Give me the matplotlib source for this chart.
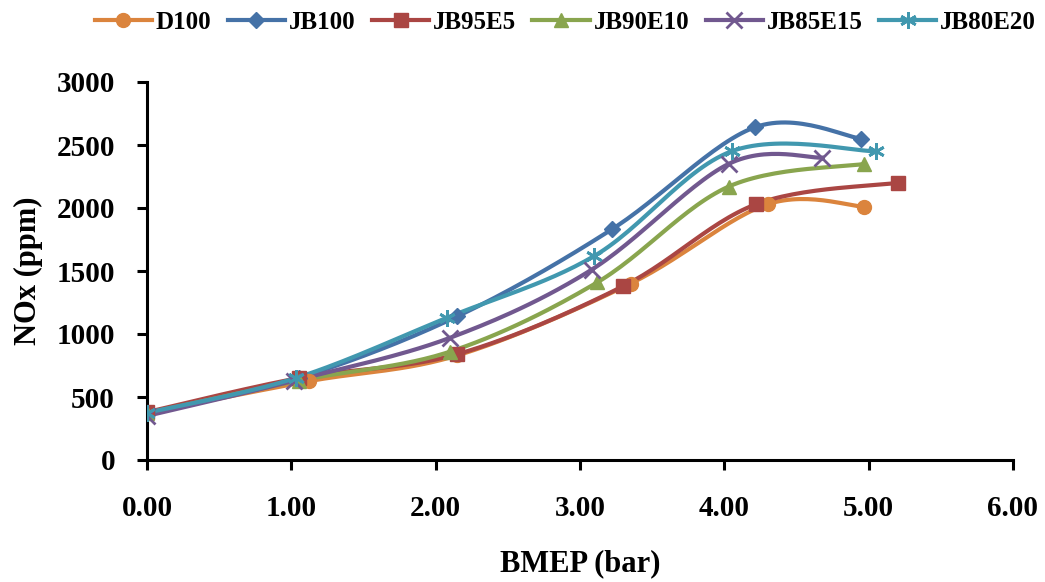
import matplotlib
matplotlib.use('Agg')
import matplotlib.pyplot as plt
import numpy as np

plt.rcParams['font.family'] = ['Liberation Serif', 'DejaVu Serif']
plt.rcParams['font.weight'] = 'bold'

# data
d100_x = [0.0, 1.12, 2.15, 3.35, 4.30, 4.97]
d100_y = [375, 625, 830, 1400, 2030, 2010]
jb100_x = [0.0, 1.05, 2.15, 3.22, 4.21, 4.95]
jb100_y = [370, 650, 1140, 1830, 2640, 2550]
jb95_x = [0.0, 1.05, 2.15, 3.30, 4.22, 5.20]
jb95_y = [380, 650, 840, 1380, 2030, 2200]
jb90_x = [0.0, 1.05, 2.10, 3.12, 4.03, 4.97]
jb90_y = [370, 630, 860, 1410, 2170, 2350]
jb85_x = [0.0, 1.02, 2.10, 3.08, 4.03, 4.68]
jb85_y = [350, 630, 970, 1510, 2350, 2400]
jb80_x = [0.0, 1.03, 2.08, 3.10, 4.05, 5.05]
jb80_y = [375, 650, 1130, 1620, 2450, 2450]

names = ['D100', 'JB100', 'JB95E5', 'JB90E10', 'JB85E15', 'JB80E20']
colors = ['#DB843D', '#4572A7', '#AA4643', '#89A54E', '#71588F', '#4198AF']
markers = ['o', 'D', 's', '^', 'x', (6, 2, 0)]
msizes = [10, 8, 10, 10, 11, 12]
mews = [1, 1, 1, 1, 2, 2]


def smooth(x, y, n=30):
    # catmull-rom style bezier, similar to excel "smoothed line"
    x = np.asarray(x, float)
    y = np.asarray(y, float)
    px = np.concatenate([[x[0]], x, [x[-1]]])
    py = np.concatenate([[y[0]], y, [y[-1]]])
    xs, ys = [], []
    t = np.linspace(0, 1, n)
    for i in range(1, len(px) - 2):
        p0 = np.array([px[i], py[i]])
        p3 = np.array([px[i + 1], py[i + 1]])
        c1 = p0 + (np.array([px[i + 1], py[i + 1]]) - np.array([px[i - 1], py[i - 1]])) / 6
        c2 = p3 - (np.array([px[i + 2], py[i + 2]]) - np.array([px[i], py[i]])) / 6
        b = ((1 - t) ** 3)[:, None] * p0 + (3 * (1 - t) ** 2 * t)[:, None] * c1 \
            + (3 * (1 - t) * t ** 2)[:, None] * c2 + (t ** 3)[:, None] * p3
        xs.extend(b[:, 0])
        ys.extend(b[:, 1])
    return xs, ys


fig = plt.figure(figsize=(10.45, 5.82), dpi=100)
ax = fig.add_axes([147 / 1045, 1 - 460 / 582, (1013 - 147) / 1045, (460 - 82) / 582])

series = [(d100_x, d100_y), (jb100_x, jb100_y), (jb95_x, jb95_y),
          (jb90_x, jb90_y), (jb85_x, jb85_y), (jb80_x, jb80_y)]
for (x, y), name, c, m, ms, mew in zip(series, names, colors, markers, msizes, mews):
    sx, sy = smooth(x, y)
    ax.plot(sx, sy, color=c, lw=3, zorder=2)
    ax.plot(x, y, ls='none', marker=m, color=c, ms=ms, mew=mew, zorder=3)
    ax.plot([], [], color=c, lw=3, marker=m, ms=ms, mew=mew, label=name)

ax.set_xlim(0, 6)
ax.set_ylim(0, 3000)
ax.set_xticks(np.arange(0, 6.01, 1))
ax.set_xticklabels(['%.2f' % v for v in np.arange(0, 6.01, 1)])
ax.set_yticks(np.arange(0, 3001, 500))
for s in ['top', 'right']:
    ax.spines[s].set_visible(False)
for s in ['left', 'bottom']:
    ax.spines[s].set_linewidth(2.2)
ax.tick_params(axis='both', labelsize=21, width=2.2, length=7, direction='out')
ax.tick_params(axis='x', pad=18)
ax.tick_params(axis='y', pad=16)
ax.set_xlabel('BMEP (bar)', fontsize=22, fontweight='bold', labelpad=20)
ax.set_ylabel('NOx (ppm)', fontsize=22, fontweight='bold', labelpad=10)

fig.legend(loc='upper center', bbox_to_anchor=(0.541, 1.02), ncol=6, frameon=False,
           fontsize=18, handlelength=2.3, columnspacing=0.65, handletextpad=0.15)

fig.savefig('out.png', dpi=100)
